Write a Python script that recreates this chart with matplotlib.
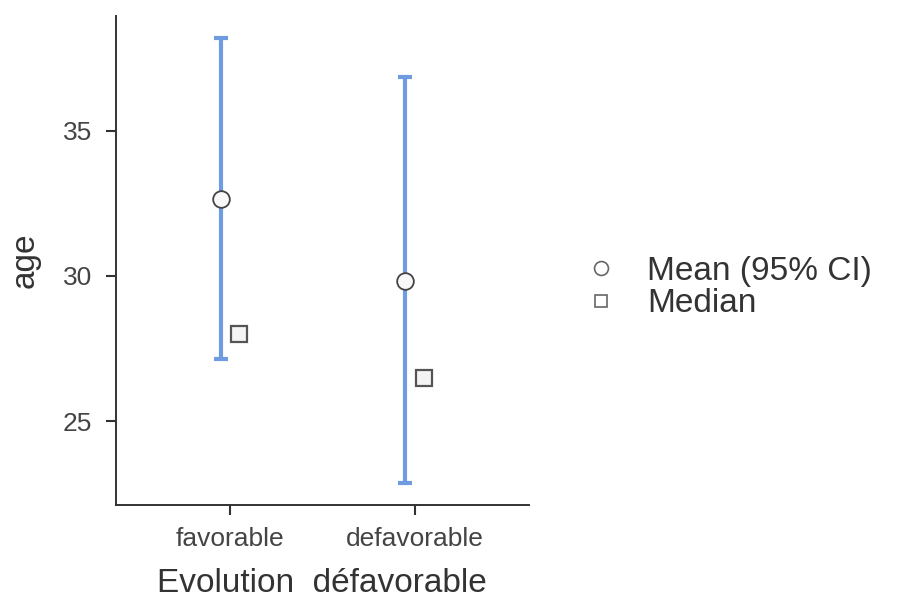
import matplotlib.pyplot as plt
from matplotlib.lines import Line2D

# Age by evolution group: mean with 95% CI, and median
groups = ['favorable', 'defavorable']
means = [32.65, 29.84]
ci_low = [27.15, 22.87]
ci_high = [38.17, 36.84]
medians = [28.0, 26.5]

plt.rcParams['font.family'] = ['Liberation Sans', 'DejaVu Sans']

fig = plt.figure(figsize=(8.99, 5.99), dpi=100, facecolor='w')
ax = fig.add_axes([0.129, 0.157, 0.459, 0.816])

pos = [1, 2]
dodge = 0.05
blue = '#6f9be0'

for i, p in enumerate(pos):
    x = p - dodge
    ax.errorbar([x], [means[i]],
                yerr=[[means[i] - ci_low[i]], [ci_high[i] - means[i]]],
                fmt='none', ecolor=blue, elinewidth=3, capsize=5, capthick=3,
                zorder=2)
    ax.plot([x], [means[i]], 'o', ms=12, mfc='#f8f8f8', mec='#444444',
            mew=1.3, zorder=3)
    ax.plot([p + dodge], [medians[i]], 's', ms=11, mfc='#f4f4f4',
            mec='#555555', mew=1.6, zorder=3)

ax.set_xlim(0.384, 2.616)
ax.set_ylim(22.13, 38.93)
ax.set_xticks(pos)
ax.set_xticklabels(groups)
ax.set_yticks([25, 30, 35])

for s in ['top', 'right']:
    ax.spines[s].set_visible(False)
for s in ['left', 'bottom']:
    ax.spines[s].set_color('#333333')
    ax.spines[s].set_linewidth(1.4)

ax.tick_params(axis='both', length=7, width=1.5, color='#333333',
               labelsize=19, labelcolor='#444444')
ax.tick_params(axis='y', pad=10)
ax.tick_params(axis='x', pad=9)

ax.set_xlabel('Evolution  défavorable', fontsize=24, color='#333333', labelpad=12)
ax.set_ylabel('age', fontsize=24, color='#333333', labelpad=16)

handles = [
    Line2D([], [], ls='none', marker='o', ms=10, mfc='white', mec='#666666', mew=1.2),
    Line2D([], [], ls='none', marker='s', ms=9, mfc='white', mec='#666666', mew=1.2),
]
fig.legend(handles, ['Mean (95% CI)', 'Median'], loc='center left',
           bbox_to_anchor=(0.62, 0.52), frameon=False, fontsize=24,
           handletextpad=1.0, labelspacing=0.05, handlelength=0.8,
           labelcolor='#333333')

fig.savefig('out.png', dpi=100)
